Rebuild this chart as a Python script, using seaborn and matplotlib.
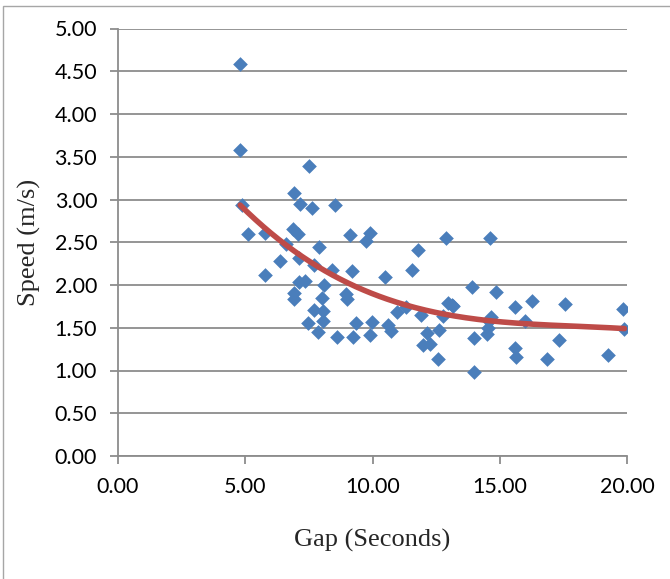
import numpy as np
import pandas as pd
import seaborn as sns
import matplotlib.pyplot as plt
from matplotlib.patches import Rectangle
from matplotlib.ticker import FormatStrFormatter

# Observed headway gap (s) and walking speed (m/s)
gap_seconds = [
    4.80, 4.80, 4.87, 5.12, 5.78, 5.77, 6.38, 6.59, 6.92, 6.89,
    7.06, 7.17, 7.13, 6.93, 6.91, 7.13, 7.36, 7.49, 7.64, 7.70,
    7.46, 7.70, 7.90, 7.87, 8.08, 8.00, 8.04, 8.07, 8.40, 8.52,
    8.62, 8.94, 9.01, 9.12, 9.20, 9.22, 9.34, 9.76, 9.92, 9.92,
    9.98, 10.49, 10.62, 10.74, 10.96, 11.33, 11.56, 11.80, 11.92, 12.00,
    12.14, 12.24, 12.56, 12.62, 12.76, 12.90, 12.98, 13.12, 13.18, 13.90,
    14.00, 13.98, 14.49, 14.53, 14.58, 14.65, 14.63, 14.84, 15.61, 15.61,
    15.63, 16.00, 16.28, 16.85, 17.34, 17.57, 19.27, 19.85, 19.90,
]
speed_ms = [
    4.58, 3.58, 2.94, 2.60, 2.61, 2.12, 2.28, 2.48, 3.08, 2.66,
    2.60, 2.95, 2.31, 1.91, 1.84, 2.04, 2.05, 3.39, 2.90, 2.23,
    1.55, 1.71, 2.45, 1.45, 2.00, 1.85, 1.70, 1.58, 2.17, 2.93,
    1.39, 1.89, 1.84, 2.59, 2.16, 1.39, 1.55, 2.51, 2.61, 1.42,
    1.57, 2.09, 1.53, 1.46, 1.68, 1.74, 2.17, 2.41, 1.65, 1.30,
    1.44, 1.31, 1.14, 1.47, 1.64, 2.55, 1.79, 1.77, 1.75, 1.98,
    1.38, 0.98, 1.43, 1.50, 1.58, 1.63, 2.55, 1.92, 1.74, 1.26,
    1.16, 1.58, 1.81, 1.13, 1.36, 1.78, 1.18, 1.72, 1.49,
]

# Third-order polynomial trendline (highest power first)
trend_coeffs = [-0.000539, 0.029176, -0.538958, 4.909147]

x_ticks = [0, 5, 10, 15, 20]
y_ticks = [0.0, 0.5, 1.0, 1.5, 2.0, 2.5, 3.0, 3.5, 4.0, 4.5, 5.0]

df = pd.DataFrame({"Gap (Seconds)": gap_seconds, "Speed (m/s)": speed_ms})
trend_x = np.linspace(min(gap_seconds), max(gap_seconds), 200)
trend = pd.DataFrame({"gap": trend_x, "speed": np.polyval(trend_coeffs, trend_x)})

sns.set_style("white")
plt.rcParams["font.family"] = ["Lato", "DejaVu Sans"]

W, H = 670, 579
fig = plt.figure(figsize=(W / 100, H / 100), dpi=100)

# outer chart frame
fig.patches.append(Rectangle((2.7 / W, -0.1), 1.2, 1 - 5.7 / H + 0.1,
                             transform=fig.transFigure, fill=False,
                             edgecolor="#a6a6a6", linewidth=1.0))

left, right, top, bottom = 118, 627, 28.5, 456
ax = fig.add_axes([left / W, 1 - bottom / H, (right - left) / W, (bottom - top) / H])

grid_col = "#8c8c8c"
sns.scatterplot(data=df, x="Gap (Seconds)", y="Speed (m/s)", marker="D", s=56,
                color="#4a7ebb", linewidth=0, ax=ax, zorder=3)
sns.lineplot(data=trend, x="gap", y="speed", ax=ax, color="#be4b48", lw=4,
             solid_capstyle="round", zorder=4)

ax.set_xlim(0, 20)
ax.set_ylim(0, 5)
ax.set_xticks(x_ticks)
ax.set_yticks(y_ticks)
ax.xaxis.set_major_formatter(FormatStrFormatter("%.2f"))
ax.yaxis.set_major_formatter(FormatStrFormatter("%.2f"))

ax.grid(axis="y", color=grid_col, linewidth=1.3)
ax.grid(axis="x", visible=False)
ax.set_axisbelow(True)
for side in ("top", "right"):
    ax.spines[side].set_visible(False)
for side in ("left", "bottom"):
    ax.spines[side].set_color(grid_col)
    ax.spines[side].set_linewidth(1.3)

ax.tick_params(axis="both", direction="out", length=6, width=1.3, color=grid_col,
               labelsize=15.5, labelcolor="black", pad=9,
               left=True, bottom=True)

ax.set_xlabel("Gap (Seconds)", family="Liberation Serif", fontsize=19, labelpad=23)
ax.set_ylabel("Speed (m/s)", family="Liberation Serif", fontsize=19, labelpad=10)

fig.savefig("out.png", dpi=100)
